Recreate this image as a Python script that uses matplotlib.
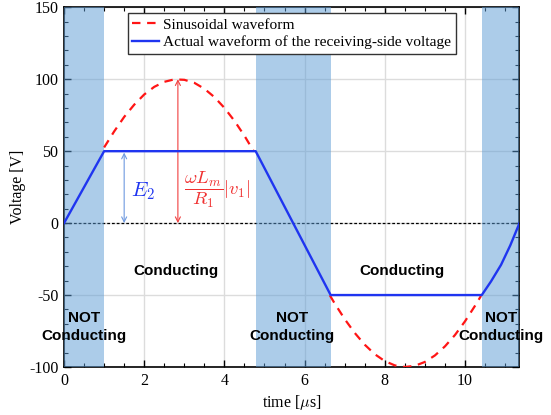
import matplotlib
matplotlib.use("Agg")
import matplotlib.pyplot as plt
import numpy as np

# ---- data ----
blue_t = [0.0, 1.0, 4.78, 6.65, 10.42, 10.65, 10.9, 11.13, 11.36]
blue_v = [0.0, 50.0, 50.0, -50.0, -50.0, -40.5, -29.0, -15.5, 0.0]

sin_t1 = [1.0, 1.25, 1.5, 1.75, 2.0, 2.25, 2.5, 2.75, 3.0, 3.25, 3.5, 3.75, 4.0, 4.25, 4.5, 4.73]
sin_v1 = [52.6, 63.7, 73.8, 82.3, 89.4, 94.7, 98.2, 99.9, 99.6, 97.5, 93.4, 87.6, 80.1, 71.1, 60.7, 50.0]
sin_t2 = [6.63, 6.75, 7.0, 7.25, 7.5, 7.75, 8.0, 8.25, 8.5, 8.75, 9.0, 9.25, 9.5, 9.75, 10.0, 10.25, 10.4]
sin_v2 = [-50.2, -55.8, -66.7, -76.3, -84.5, -91.1, -95.9, -98.9, -100.0, -99.2, -96.5, -92.0, -85.7, -77.8, -68.3, -57.5, -50.6]

not_cond_spans = [(0.0, 1.0), (4.78, 6.65), (10.42, 11.36)]
cond_labels_t = [2.8, 8.44]
not_cond_labels_t = [0.5, 5.69, 10.9]

e2_level = 50
peak_t = 2.84
peak_v = 100
e2_arrow_t = 1.5

xlim = (0, 11.36)
ylim = (-100, 150)
xticks = [0, 2, 4, 6, 8, 10]
yticks = [-100, -50, 0, 50, 100, 150]
ytick_labels = ["-100", "-50", "0", "50", "100", "150"]

plt.rcParams['font.family'] = ['Liberation Serif', 'DejaVu Serif']
plt.rcParams['mathtext.fontset'] = 'cm'

fig = plt.figure(figsize=(5.51, 4.15), dpi=100)
ax = fig.add_axes([0.1162, 0.1157, 0.8266, 0.8667])

ax.set_xlim(*xlim)
ax.set_ylim(*ylim)
ax.set_axisbelow(True)
ax.grid(True, which='major', color='#dcdcdc', lw=1.0)

for a, b in not_cond_spans:
    ax.axvspan(a, b, color='#5b9bd5', alpha=0.5, lw=0, zorder=3)

ax.axhline(0, color='black', lw=0.9, ls=(0, (2.2, 1.6)), zorder=2)

red_color = '#ff1515'
ax.plot(sin_t1, sin_v1, color=red_color, lw=1.6, dashes=(3.8, 3.0), zorder=4,
        label='Sinusoidal waveform')
ax.plot(sin_t2, sin_v2, color=red_color, lw=1.6, dashes=(3.8, 3.0), zorder=4)
ax.plot(blue_t, blue_v, color='#1f35f0', lw=1.7, zorder=5,
        label='Actual waveform of the receiving-side voltage')

# arrows
ax.annotate('', xy=(e2_arrow_t, e2_level - 1), xytext=(e2_arrow_t, 0),
            arrowprops=dict(arrowstyle='<->', color='#6f9ae0', lw=0.8,
                            shrinkA=0, shrinkB=0, mutation_scale=9), zorder=4)
ax.annotate('', xy=(peak_t, peak_v), xytext=(peak_t, 0),
            arrowprops=dict(arrowstyle='<->', color='#f04040', lw=0.8,
                            shrinkA=0, shrinkB=0, mutation_scale=9), zorder=4)
ax.text(1.67, 22, r'$E_2$', color='#1f35f0', fontsize=15, ha='left', va='center')
ax.text(3.0, 23, r'$\dfrac{\omega L_m}{R_1}|v_1|$', color='#f03030', fontsize=13.5,
        ha='left', va='center')

# labels
for t in cond_labels_t:
    ax.text(t, -33, 'Conducting', family=['Liberation Sans', 'DejaVu Sans'],
            fontweight='bold', fontsize=11, ha='center', va='center', zorder=6)
for t in not_cond_labels_t:
    ax.text(t, -72.5, 'NOT\nConducting', family=['Liberation Sans', 'DejaVu Sans'],
            fontweight='bold', fontsize=11, ha='center', va='center',
            multialignment='center', linespacing=1.35, zorder=6)

ax.set_xticks(xticks)
ax.set_yticks(yticks)
ax.set_yticklabels(ytick_labels)
ax.set_xticks(np.arange(0, 11.4, 0.5), minor=True)
ax.set_yticks(np.arange(-100, 151, 10), minor=True)
ax.tick_params(which='both', direction='in', top=True, right=True, labelsize=11.5,
               pad=4)
ax.tick_params(which='major', length=5, width=1.0)
ax.tick_params(which='minor', length=3, width=0.8)

for s in ax.spines.values():
    s.set_linewidth(1.2)
    s.set_color('black')

ax.set_xlabel(r'time [$\mu$s]', fontsize=11.5, labelpad=3)
ax.set_ylabel('Voltage [V]', fontsize=11.5, labelpad=2)

leg = ax.legend(loc='upper center', bbox_to_anchor=(0.5, 0.983), fontsize=11.1,
                frameon=True, fancybox=False, framealpha=1, edgecolor='#333333',
                handlelength=1.7, handletextpad=0.3, borderpad=0.3,
                labelspacing=0.25, borderaxespad=0)
leg.get_frame().set_linewidth(1.0)
leg.set_zorder(7)

fig.savefig('out.png', dpi=100)
